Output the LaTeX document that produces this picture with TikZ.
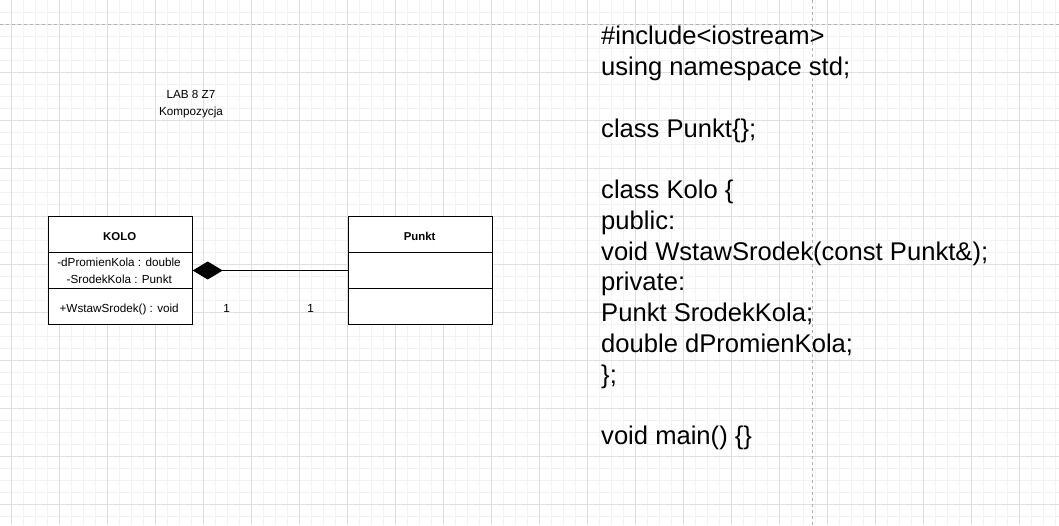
\documentclass[tikz,border=0pt]{standalone}
\usepackage{fontspec}
\setmainfont{Liberation Sans}
\usetikzlibrary{arrows.meta}
\definecolor{gridminor}{HTML}{F3F3F3}
\definecolor{gridmajor}{HTML}{DFDFDF}
\definecolor{pageline}{HTML}{B0B0B0}
\begin{document}
\begin{tikzpicture}[x=1pt,y=-1pt,
  compart/.style={draw=black,line width=1pt,fill=white,minimum width=144pt,inner sep=0pt,anchor=north west},
  small/.style={font=\fontsize{11.7}{17.7}\selectfont,inner sep=0pt,anchor=base},
  classname/.style={font=\fontsize{11.4}{13}\selectfont\bfseries,inner sep=0pt,anchor=base},
  codetext/.style={font=\fontsize{25.6}{30.8}\selectfont,inner sep=0pt,anchor=base west},
  minorline/.style={gridminor,line width=1pt},
  majorline/.style={gridmajor,line width=1pt},
  pagebreak/.style={pageline,line width=1pt,dash pattern=on 3pt off 3pt},
  compo/.style={draw=black,line width=1pt,{Diamond[length=30pt,width=18pt]}-}
]
\useasboundingbox (0,0) rectangle (1059,525);
\fill[white] (0,0) rectangle (1059,525);
% grid
\foreach \x in {11.5,23.5,...,1059} \draw[minorline] (\x,0) -- (\x,525);
\foreach \y in {12,24,...,524} \draw[minorline] (0,\y) -- (1059,\y);
\foreach \x in {11.5,59.5,...,1059} \draw[majorline] (\x,0) -- (\x,525);
\foreach \y in {24,72,...,524} \draw[majorline] (0,\y) -- (1059,\y);
% page break lines
\coordinate (hb1) at (0,24);
\coordinate (hb2) at (1059,24);
\coordinate (vb1) at (812.3,0);
\coordinate (vb2) at (812.3,525);
\draw[pagebreak] (hb1) -- (hb2);
\draw[pagebreak] (vb1) -- (vb2);

% title
\node[small] (title1) at (191,98) {LAB 8 Z7};
\node[small] (title2) at (191,115.7) {Kompozycja};

% class KOLO
\node[compart,minimum height=36pt] (kh) at (47.7,216) {};
\node[compart,minimum height=36pt] (ka) at (47.7,252) {};
\node[compart,minimum height=36pt] (km) at (47.7,288) {};
\node[classname] (kname) at (119.7,240) {KOLO};
\node[small] (kattr1) at (119,266) {-dPromienKola : double};
\node[small] (kattr2) at (119.3,283.7) {-SrodekKola : Punkt};
\node[small] (kmeth) at (119.2,312) {+WstawSrodek() : void};

% class Punkt
\node[compart,minimum height=36pt] (ph) at (347.7,216) {};
\node[compart,minimum height=36pt] (pa) at (347.7,252) {};
\node[compart,minimum height=36pt] (pm) at (347.7,288) {};
\node[classname] (pname) at (419.7,240) {Punkt};

% composition
\draw[compo] (ka.east) -- (pa.west);
\node[small] (m1) at (226.7,312) {1};
\node[small] (m2) at (310.7,312) {1};

% code
\node[codetext] (c0) at (601,44.7) {\#include<iostream>};
\node[codetext] (c1) at (601,75.5) {using namespace std;};
\node[codetext] (c3) at (601,137) {class Punkt\{\};};
\node[codetext] (c5) at (601,198.6) {class Kolo \{};
\node[codetext] (c6) at (601,229.3) {public:};
\node[codetext] (c7) at (601,260.1) {void WstawSrodek(const Punkt\&);};
\node[codetext] (c8) at (601,290.9) {private:};
\node[codetext] (c9) at (601,321.6) {Punkt SrodekKola;};
\node[codetext] (c10) at (601,352.4) {double dPromienKola;};
\node[codetext] (c11) at (601,383.2) {\};};
\node[codetext] (c13) at (601,444.7) {void main() \{\}};
\end{tikzpicture}
\end{document}
